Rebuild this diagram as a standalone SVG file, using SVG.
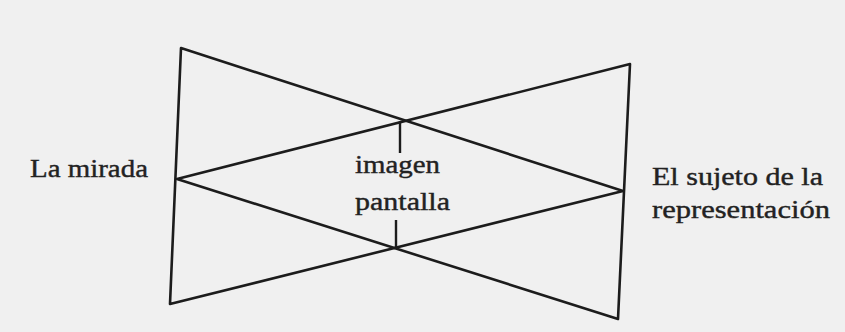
<svg xmlns="http://www.w3.org/2000/svg" width="845" height="332" viewBox="0 0 845 332">
<style>
.ln{stroke:#1c1c1c;stroke-width:2.6;fill:none;stroke-linecap:round;stroke-linejoin:round}
.tk{stroke:#1c1c1c;stroke-width:2.4;fill:none}
.lb{font-family:"Liberation Serif","DejaVu Serif",serif;font-size:26px;fill:#222;stroke:#222;stroke-width:0.4}
</style>
<rect width="845" height="332" fill="#f0f0f0"/>
<g id="connectors">
<polyline class="ln" points="170,304 181,48 623,191 170,304"/>
<polyline class="ln" points="618,319 630,64 177,179 618,319"/>
<line class="tk" x1="400" y1="121" x2="400" y2="153"/>
<line class="tk" x1="396" y1="220" x2="396" y2="247"/>
</g>
<g id="la-mirada"><text class="lb" x="30" y="177" textLength="118" lengthAdjust="spacingAndGlyphs">La mirada</text></g>
<g id="imagen-pantalla">
<text class="lb" x="355" y="173" textLength="85" lengthAdjust="spacingAndGlyphs">imagen</text>
<text class="lb" x="355" y="210" textLength="95" lengthAdjust="spacingAndGlyphs">pantalla</text>
</g>
<g id="sujeto">
<text class="lb" x="652" y="185" textLength="171" lengthAdjust="spacingAndGlyphs">El sujeto de la</text>
<text class="lb" x="652" y="218" textLength="178" lengthAdjust="spacingAndGlyphs">representación</text>
</g>
</svg>
